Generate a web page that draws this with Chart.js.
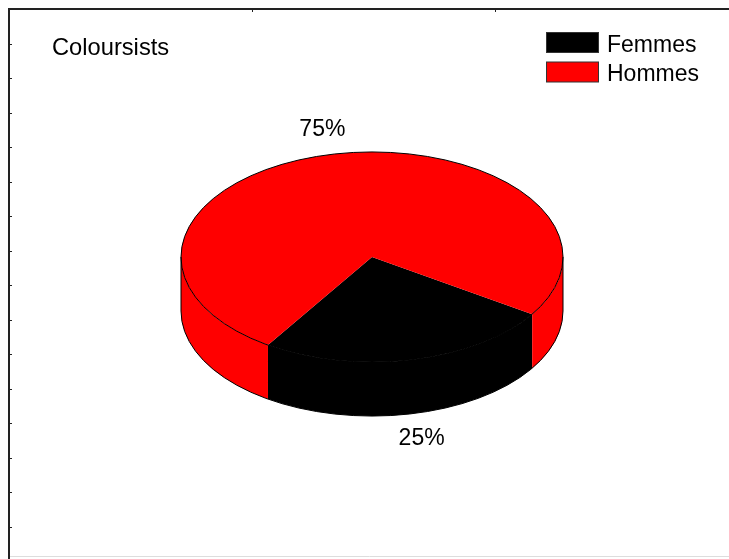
<!DOCTYPE html>
<html>
<head>
<meta charset="utf-8">
<title>Coloursists</title>
<script src="https://cdn.jsdelivr.net/npm/chart.js@4/dist/chart.umd.min.js"></script>
<style>
    html, body { margin: 0; padding: 0; background: #fff; overflow: hidden; }
    #pie-wrap { width: 729px; height: 559px; }
    #pie-chart { display: block; }
</style>
</head>
<body>
<div id="pie-wrap">
    <canvas id="pie-chart" width="729" height="559"></canvas>
</div>
<script>
const chartTitle = 'Coloursists';
const categories = ['Femmes', 'Hommes'];
const shares = [25, 75];
const sliceColours = ['#000000', '#ff0000'];

(function() {

    "use strict";

    const font = '23px "Liberation Sans", Arial, sans-serif';
    const titleFont = '23.7px "Liberation Sans", Arial, sans-serif';
    const tilt = 0.55;   // vertical squash of the top face
    const depth = 54;    // height of the cylinder wall
    const labelRadius = 1.25;

    function pieGeometry(chart) {
        const arcs = chart.getDatasetMeta(0).data;
        const p = arcs[0].getProps(['x', 'y', 'outerRadius'], true);
        return { arcs: arcs, cx: p.x, cy: p.y, rx: p.outerRadius, ry: p.outerRadius * tilt };
    }

    // frame with small ticks round the plot
    const framePlugin = {
        id: 'frame',
        beforeDraw: function(chart) {
            const ctx = chart.ctx;
            const w = chart.width, h = chart.height;
            ctx.save();
            ctx.fillStyle = '#fff';
            ctx.fillRect(0, 0, w, h);
            ctx.strokeStyle = '#222';
            ctx.lineWidth = 2;
            ctx.beginPath();
            ctx.moveTo(9, h);
            ctx.lineTo(9, 9);
            ctx.lineTo(w, 9);
            ctx.stroke();
            ctx.strokeStyle = '#ddd';
            ctx.lineWidth = 1;
            ctx.beginPath();
            ctx.moveTo(10, h - 2.5);
            ctx.lineTo(w, h - 2.5);
            ctx.stroke();
            ctx.strokeStyle = '#222';
            ctx.beginPath();
            for (let y = 9 + 34.5; y < h; y += 34.5) {
                ctx.moveTo(9, Math.round(y) + 0.5);
                ctx.lineTo(12, Math.round(y) + 0.5);
            }
            for (let x = 8 + 243.5; x < w; x += 243.5) {
                ctx.moveTo(Math.round(x) + 0.5, 9);
                ctx.lineTo(Math.round(x) + 0.5, 12);
            }
            ctx.stroke();
            ctx.restore();
        },
        afterDraw: function(chart) {
            const ctx = chart.ctx;
            ctx.save();
            ctx.fillStyle = '#000';
            ctx.textBaseline = 'alphabetic';
            ctx.textAlign = 'left';
            ctx.font = titleFont;
            ctx.fillText(chartTitle, 52, 55);

            // legend, one row per category
            ctx.font = font;
            const items = chart.data.labels;
            const colours = chart.data.datasets[0].backgroundColor;
            items.forEach(function(label, i) {
                const top = 32.5 + i * 29.5;
                ctx.fillStyle = colours[i];
                ctx.fillRect(546.5, top, 52, 20);
                ctx.strokeStyle = '#333';
                ctx.lineWidth = 1;
                ctx.strokeRect(546.5, top, 52, 20);
                ctx.fillStyle = '#000';
                ctx.fillText(label, 607, top + 19);
            });
            ctx.restore();
        }
    };

    // extrude the pie into a flat cylinder and squash the top face
    const pie3dPlugin = {
        id: 'pie3d',
        beforeDatasetsDraw: function(chart) {
            const ctx = chart.ctx;
            const g = pieGeometry(chart);
            const full = Math.PI * 2;

            ctx.save();
            g.arcs.forEach(function(arc) {
                const a = arc.getProps(['startAngle', 'endAngle'], true);
                ctx.fillStyle = arc.options.backgroundColor;
                // only the front half of the wall can be seen
                for (let k = -1; k <= 2; k++) {
                    const lo = Math.max(a.startAngle, full * k);
                    const hi = Math.min(a.endAngle, full * k + Math.PI);
                    if (hi <= lo) continue;
                    ctx.beginPath();
                    ctx.ellipse(g.cx, g.cy, g.rx, g.ry, 0, lo, hi, false);
                    ctx.ellipse(g.cx, g.cy + depth, g.rx, g.ry, 0, hi, lo, true);
                    ctx.closePath();
                    ctx.fill();
                }
            });
            ctx.restore();

            ctx.save();
            ctx.translate(g.cx, g.cy);
            ctx.scale(1, tilt);
            ctx.translate(-g.cx, -g.cy);
        },
        afterDatasetsDraw: function(chart) {
            const ctx = chart.ctx;
            ctx.restore();
            const g = pieGeometry(chart);

            ctx.save();
            ctx.strokeStyle = '#000';
            ctx.lineWidth = 1;
            ctx.beginPath();
            ctx.ellipse(g.cx, g.cy, g.rx, g.ry, 0, 0, Math.PI * 2);
            ctx.stroke();
            ctx.beginPath();
            ctx.ellipse(g.cx, g.cy + depth, g.rx, g.ry, 0, 0, Math.PI);
            ctx.stroke();
            ctx.beginPath();
            ctx.moveTo(g.cx - g.rx, g.cy);
            ctx.lineTo(g.cx - g.rx, g.cy + depth);
            ctx.moveTo(g.cx + g.rx, g.cy);
            ctx.lineTo(g.cx + g.rx, g.cy + depth);
            ctx.stroke();

            // percentage labels outside each slice
            const values = chart.data.datasets[0].data;
            const total = values.reduce(function(s, v) { return s + v; }, 0);
            ctx.font = font;
            ctx.fillStyle = '#000';
            ctx.textAlign = 'center';
            ctx.textBaseline = 'middle';
            g.arcs.forEach(function(arc, i) {
                const a = arc.getProps(['startAngle', 'endAngle'], true);
                const mid = (a.startAngle + a.endAngle) / 2;
                const s = Math.sin(mid);
                const x = g.cx + labelRadius * g.rx * Math.cos(mid);
                const y = g.cy + labelRadius * g.ry * s + (s > 0 ? depth - 2 : 0);
                ctx.fillText(Math.round(values[i] / total * 100) + '%', x, y + 1);
            });
            ctx.restore();
        }
    };

    const ctxPie = document.getElementById('pie-chart');
    new Chart(ctxPie, {
        type: 'pie',
        data: {
            labels: categories,
            datasets: [{
                data: shares,
                backgroundColor: sliceColours,
                borderWidth: 0,
                clip: false,
            }]
        },
        options: {
            responsive: false,
            animation: false,
            events: [],
            rotation: 123,
            layout: {
                padding: { left: 181, right: 166, top: 66, bottom: 111 }
            },
            plugins: {
                legend: { display: false },
                title: { display: false },
                tooltip: { enabled: false },
            }
        },
        plugins: [framePlugin, pie3dPlugin]
    });
})();
</script>
</body>
</html>
